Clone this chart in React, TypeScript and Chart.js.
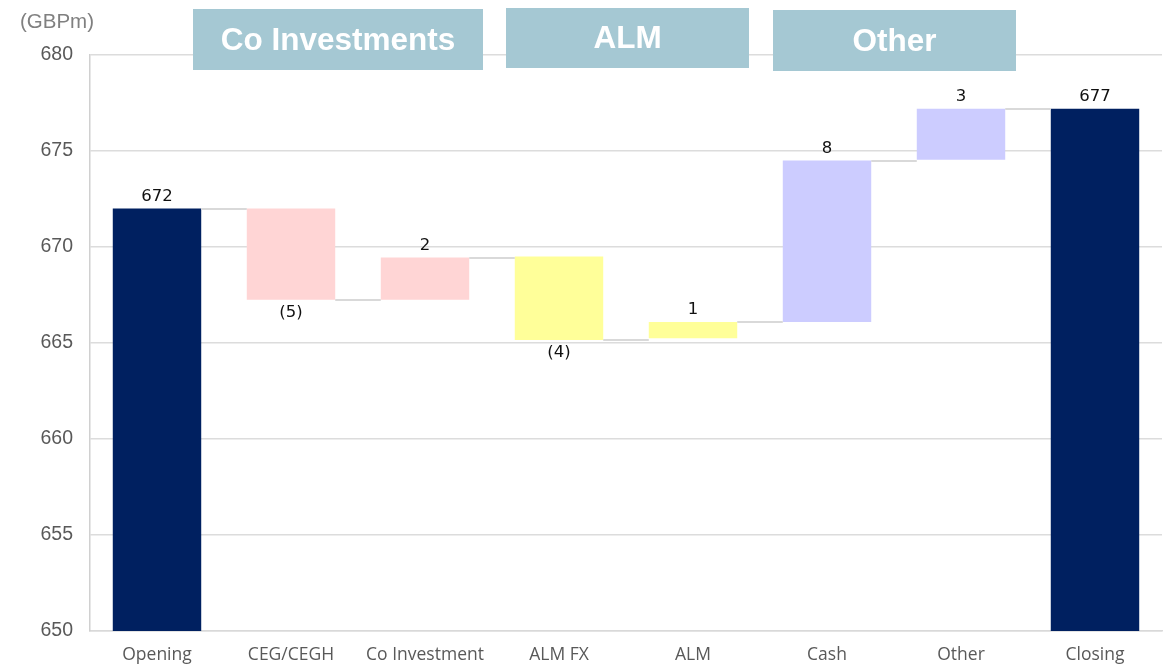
import React, { useEffect, useRef } from "react";
import { Chart, registerables } from "chart.js";
Chart.register(...registerables);

const categories = ["Opening", "CEG/CEGH", "Co Investment", "ALM FX", "ALM", "Cash", "Other", "Closing"];
const barStarts = [650, 672, 667.25, 669.5, 665.25, 666.1, 674.55, 650];
const barEnds = [672, 667.25, 669.45, 665.15, 666.1, 674.5, 677.2, 677.2];
const valueLabels = ["672", "(5)", "2", "(4)", "1", "8", "3", "677"];
const barColors = ["#002060", "#FFD5D5", "#FFD5D5", "#FFFF99", "#FFFF99", "#CCCCFF", "#CCCCFF", "#002060"];
const groupHeaders = ["Co Investments", "ALM", "Other"];
const yTicks = [650, 655, 660, 665, 670, 675, 680];

export default function App() {
  const ref = useRef<HTMLCanvasElement | null>(null);
  useEffect(() => {
    document.body.style.margin = "0";
    const canvas = ref.current!;
    const overlay = {
      id: "overlay",
      afterDatasetsDraw(chart: any) {
        const ctx = chart.ctx;
        const meta = chart.getDatasetMeta(0);
        const y = chart.scales.y;
        ctx.save();
        // connectors
        ctx.strokeStyle = "#d9d9d9";
        ctx.lineWidth = 2;
        for (let i = 0; i < meta.data.length - 1; i++) {
          const a = meta.data[i];
          const b = meta.data[i + 1];
          const yy = Math.round(y.getPixelForValue(barEnds[i]));
          ctx.beginPath();
          ctx.moveTo(a.x + a.width / 2, yy);
          ctx.lineTo(b.x - b.width / 2, yy);
          ctx.stroke();
        }
        // value labels
        ctx.fillStyle = "#111";
        ctx.font = "16.5px 'DejaVu Sans'";
        ctx.textAlign = "center";
        ctx.textBaseline = "middle";
        meta.data.forEach((el: any, i: number) => {
          const up = barEnds[i] >= barStarts[i];
          const top = y.getPixelForValue(Math.max(barStarts[i], barEnds[i]));
          const bot = y.getPixelForValue(Math.min(barStarts[i], barEnds[i]));
          const ly = up ? top - 12 : bot + 13;
          ctx.fillText(valueLabels[i], el.x, ly);
        });
        // axis unit
        ctx.fillStyle = "#808080";
        ctx.font = "20.5px 'Liberation Sans', Arial";
        ctx.textAlign = "left";
        ctx.fillText("(GBPm)", 20, 22);
        // headers
        const boxes = [
          [193, 9, 290, 61],
          [506, 8, 243, 60],
          [773, 10, 243, 61],
        ];
        boxes.forEach((bx, i) => {
          ctx.fillStyle = "#A5C8D3";
          ctx.fillRect(bx[0], bx[1], bx[2], bx[3]);
          ctx.fillStyle = "#ffffff";
          ctx.font = "bold 31.5px 'Liberation Sans', Arial";
          ctx.textAlign = "center";
          ctx.fillText(groupHeaders[i], bx[0] + bx[2] / 2, bx[1] + bx[3] / 2 + 1.5);
        });
        ctx.restore();
      },
    };
    const chart = new Chart(canvas, {
      type: "bar",
      data: {
        labels: categories,
        datasets: [
          {
            data: barStarts.map((s, i) => [s, barEnds[i]]) as any,
            backgroundColor: barColors,
            borderWidth: 0,
            borderSkipped: false,
            barPercentage: 0.66,
            categoryPercentage: 1,
          },
        ],
      },
      options: {
        animation: false,
        responsive: false,
        maintainAspectRatio: false,
        layout: { padding: { top: 55, right: 8, left: 0, bottom: 0 } },
        plugins: { legend: { display: false }, tooltip: { enabled: false } },
        scales: {
          x: {
            grid: { display: false, drawTicks: false },
            border: { color: "#d9d9d9", width: 1.5 },
            ticks: {
              color: "#595959",
              font: { family: "'Open Sans'", size: 17.5 },
              padding: 14,
              maxRotation: 0,
            },
            afterFit: (s: any) => {
              s.height = 33;
            },
          },
          y: {
            min: 650,
            max: 680,
            afterBuildTicks: (s: any) => {
              s.ticks = yTicks.map((v) => ({ value: v }));
            },
            grid: { color: "#dcdcdc", lineWidth: 1.5, drawTicks: false },
            border: { color: "#d0d0d0", width: 1.5 },
            ticks: {
              color: "#595959",
              font: { family: "'Liberation Sans', Arial", size: 19.5 },
              padding: 17,
            },
            afterFit: (s: any) => {
              s.width = 90;
            },
          },
        },
      },
      plugins: [overlay],
    });
    return () => chart.destroy();
  }, []);
  return (
    <div style={{ width: 1170, height: 664, background: "#fff" }}>
      <canvas ref={ref} width={1170} height={664} style={{ display: "block" }} />
    </div>
  );
}
